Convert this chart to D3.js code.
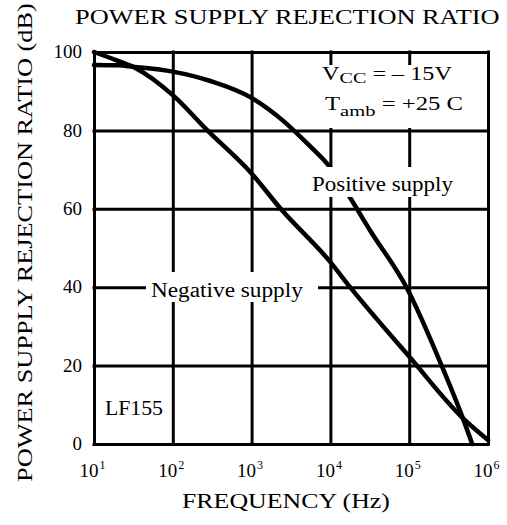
<!DOCTYPE html>
<html>
<head>
<meta charset="utf-8">
<script src="https://cdn.jsdelivr.net/npm/d3@7"></script>
<style>
  body { margin: 0; background: #fff; }
  svg { display: block; }
  svg text { fill: #000; }
</style>
</head>
<body>
<svg id="chart" width="507" height="525"></svg>
<script>
// Frequency axis (Hz), decades 10^1 .. 10^6
const freqTicks = [1e1, 1e2, 1e3, 1e4, 1e5, 1e6];
const freqExponents = ["1", "2", "3", "4", "5", "6"];
// Rejection ratio axis (dB)
const dbTicks = [0, 20, 40, 60, 80, 100];

// Positive supply PSRR curve
const positiveFreq = [10, 20, 33, 100, 300, 1000, 2500, 5000, 10000, 17800, 31600, 93300, 263000, 479000, 631000];
const positiveDb   = [96.7, 96.6, 96.2, 95, 92.6, 88.3, 82.5, 76.8, 70.5, 62.8, 54.6, 39.8, 19.6, 6.6, 0];

// Negative supply PSRR curve
const negativeFreq = [10, 18.6, 33, 100, 275, 1000, 2340, 10000, 17800, 100000, 479000, 1000000];
const negativeDb   = [100, 98, 96, 89, 80, 69, 60, 46.4, 40, 22.3, 6.6, 1];

const FONT = "'Liberation Serif', 'Times New Roman', serif";

const svg = d3.select("#chart");

const x = d3.scaleLog().domain([1e1, 1e6]).range([94, 488]);
const y = d3.scaleLinear().domain([0, 100]).range([444, 52]);

const plotW = x.range()[1] - x.range()[0];
const plotH = y.range()[0] - y.range()[1];

// Stretch a text horizontally (along its own baseline) so it spans `width` px
function fitWidth(sel, x0, width, base) {
  const w = sel.node().getComputedTextLength();
  const k = width / w;
  sel.attr("transform", `${base || ""} translate(${x0},0) scale(${k},1) translate(${-x0},0)`);
}

// Grid + y tick labels
const yAxis = svg.append("g")
  .attr("transform", `translate(${x.range()[0]},0)`)
  .call(d3.axisLeft(y).tickValues(dbTicks).tickSize(-plotW).tickPadding(12).tickFormat(d3.format("d")));
yAxis.attr("font-family", null);
yAxis.select(".domain").remove();
yAxis.selectAll("line").attr("stroke", "#000").attr("stroke-width", 3).attr("stroke-linecap", "square");
yAxis.selectAll("text")
  .style("font-family", FONT)
  .attr("font-size", 19)
  .attr("dy", "0.3em");

// Grid + x tick labels (10 with superscript exponent)
const xAxis = svg.append("g")
  .attr("transform", `translate(0,${y.range()[0]})`)
  .call(d3.axisBottom(x).tickValues(freqTicks).tickSize(-plotH).tickPadding(20).tickFormat(() => "10"));
xAxis.attr("font-family", null);
xAxis.select(".domain").remove();
xAxis.selectAll("line").attr("stroke", "#000").attr("stroke-width", 3).attr("stroke-linecap", "square");
xAxis.selectAll("text")
  .style("font-family", FONT)
  .attr("font-size", 19)
  .attr("dy", 0)
  .attr("y", 33)
  .attr("x", -2)
  .each(function(d, i) {
    d3.select(this).append("tspan")
      .attr("font-size", 12)
      .attr("dy", -8)
      .attr("dx", 1)
      .text(freqExponents[i]);
  });

// Curves
const line = d3.line()
  .x(d => x(d[0]))
  .y(d => y(d[1]))
  .curve(d3.curveMonotoneX);

const curves = svg.append("g").attr("fill", "none").attr("stroke", "#000").attr("stroke-width", 4.5).attr("stroke-linecap", "round");
curves.append("path").attr("d", line(d3.zip(positiveFreq, positiveDb)));
curves.append("path").attr("d", line(d3.zip(negativeFreq, negativeDb)));

// Labels with white backing (they interrupt grid lines and curve)
const labels = svg.append("g");
function backing(r) {
  labels.append("rect").attr("x", r[0]).attr("y", r[1]).attr("width", r[2]).attr("height", r[3]).attr("fill", "#fff");
}
function label(parts, tx, ty, size, width) {
  const t = labels.append("text").attr("x", tx).attr("y", ty).attr("font-size", size).style("font-family", FONT);
  parts.forEach(p => {
    const s = t.append("tspan").text(p.t);
    if (p.size) s.attr("font-size", p.size);
    if (p.dy) s.attr("dy", p.dy);
  });
  if (width) fitWidth(t, tx, width);
  return t;
}

backing([318, 65, 152, 63]);
backing([308, 167, 148, 30]);
backing([146, 272, 172, 30]);
label([{t: "V"}, {t: "CC", size: 15, dy: 3}, {t: " = \u2013 15V", dy: -3}], 322, 80, 18, 130);
label([{t: "T"}, {t: "amb", size: 15, dy: 6}, {t: " = +25 C", dy: -6}], 325, 110, 18, 138);
label([{t: "Positive supply"}], 312, 191, 20, 141);
label([{t: "Negative supply"}], 151, 297, 20, 152);
label([{t: "LF155"}], 105, 415, 20, 58);

// Titles
const title = svg.append("text")
  .style("font-family", FONT)
  .attr("x", 75).attr("y", 24)
  .attr("font-size", 22)
  .text("POWER SUPPLY REJECTION RATIO");
fitWidth(title, 75, 425);

const yTitle = svg.append("text")
  .style("font-family", FONT)
  .attr("x", 0).attr("y", 0)
  .attr("font-size", 22)
  .text("POWER SUPPLY REJECTION RATIO (dB)");
fitWidth(yTitle, 0, 479, "translate(32,482) rotate(-90)");

const xTitle = svg.append("text")
  .style("font-family", FONT)
  .attr("x", 182).attr("y", 508)
  .attr("font-size", 21)
  .text("FREQUENCY (Hz)");
fitWidth(xTitle, 182, 208);
</script>
</body>
</html>
